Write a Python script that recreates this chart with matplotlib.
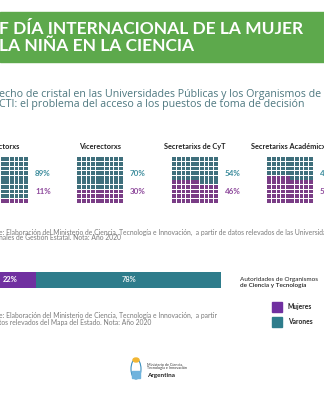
import matplotlib.pyplot as plt
import numpy as np
from matplotlib.patches import Rectangle, Ellipse

plt.rcParams['font.family'] = ['Lato', 'DejaVu Sans']

W, H = 324, 400

# data
waffle_titles = ['Rectorxs', 'Vicerectorxs', 'Secretarixs de CyT', 'Secretarixs Académicxs']
pct_varones = [89, 70, 54, 45]
pct_mujeres = [11, 30, 46, 55]

bar_mujeres = 22
bar_varones = 78

legend_labels = ['Mujeres', 'Varones']

teal = '#3f6f7c'
purple = '#7a3d86'
teal_txt = '#3f8e9e'
purple_txt = '#8e4a9c'
bar_teal = '#2e7c8b'
bar_purple = '#7030a0'
green = '#5da94c'


def fx(x):
    return x / W


def fy(y):
    return 1 - y / H


def box(x0, y0, x1, y1):
    return [fx(x0), fy(y1), (x1 - x0) / W, (y1 - y0) / H]


fig = plt.figure(figsize=(3.24, 4.0), dpi=100)
fig.patch.set_facecolor('white')

# header band
fig.patches.append(Rectangle((0, fy(62)), 1, (62 - 12) / H, transform=fig.transFigure,
                             color=green, zorder=0))
fig.text(fx(-1), fy(29), 'F DÍA INTERNACIONAL DE LA MUJER', color='white',
         fontsize=12.5, fontweight='bold', va='center', ha='left')
fig.text(fx(-1), fy(46), 'LA NIÑA EN LA CIENCIA', color='white',
         fontsize=12.5, fontweight='bold', va='center', ha='left')

# subtitle
sub_col = '#4e7880'
fig.text(fx(-1), fy(94), 'echo de cristal en las Universidades Públicas y los Organismos de',
         color=sub_col, fontsize=7.7, va='center', ha='left', family='Open Sans')
fig.text(fx(-1), fy(105), 'CTI: el problema del acceso a los puestos de toma de decisión',
         color=sub_col, fontsize=7.7, va='center', ha='left', family='Open Sans')

# waffles
for i, title in enumerate(waffle_titles):
    left = -18 + 95 * i
    ax = fig.add_axes(box(left, 157, left + 46, 203))
    n_m = pct_mujeres[i]
    for r in range(10):
        cols = np.arange(10)
        idx = r * 10 + cols
        colors = [purple if k < n_m else teal for k in idx]
        ax.bar(cols, 0.8, bottom=r - 0.4, width=0.8, color=colors)
    ax.set_xlim(-0.5, 9.5)
    ax.set_ylim(-0.5, 9.5)
    ax.axis('off')
    fig.text(fx(left + 23), fy(147), title, color='#222222', fontsize=5.3,
             fontweight='bold', ha='center', va='center')
    fig.text(fx(left + 53), fy(173), f'{pct_varones[i]}%', color=teal_txt,
             fontsize=5.8, fontweight='bold', ha='left', va='center')
    fig.text(fx(left + 53), fy(191), f'{pct_mujeres[i]}%', color=purple_txt,
             fontsize=5.8, fontweight='bold', ha='left', va='center')

src_col = '#7a7a7a'
fig.text(fx(-1), fy(232), 'e: Elaboración del Ministerio de Ciencia, Tecnología e Innovación,  a partir de datos relevados de las Universidades',
         color=src_col, fontsize=4.9, ha='left', va='center')
fig.text(fx(-1), fy(238), 'nales de Gestión Estatal. Nota: Año 2020',
         color=src_col, fontsize=4.9, ha='left', va='center')

# stacked bar
axb = fig.add_axes(box(-16, 272, 221, 288))
axb.barh(0, bar_mujeres, height=1, color=bar_purple)
axb.barh(0, bar_varones, left=bar_mujeres, height=1, color=bar_teal)
axb.text(bar_mujeres / 2, 0, f'{bar_mujeres}%', color='white', fontsize=5.4,
         fontweight='bold', ha='center', va='center')
axb.text(bar_mujeres + bar_varones / 2, 0, f'{bar_varones}%', color='#e6eef0',
         fontsize=5.4, fontweight='bold', ha='center', va='center')
axb.set_xlim(0, 100)
axb.set_ylim(-0.5, 0.5)
axb.axis('off')

fig.text(fx(240), fy(279), 'Autoridades de Organismos', color='#222222',
         fontsize=4.6, ha='left', va='center')
fig.text(fx(240), fy(286), 'de Ciencia y Tecnología', color='#222222',
         fontsize=4.6, fontweight='semibold', ha='left', va='center')

# legend
for j, (lab, c) in enumerate(zip(legend_labels, [bar_purple, bar_teal])):
    yc = 307 + 15 * j
    fig.patches.append(Rectangle((fx(272), fy(yc + 5)), 10 / W, 10 / H,
                                 transform=fig.transFigure, color=c))
    fig.text(fx(288), fy(yc), lab, color='#222222', fontsize=4.8,
             fontweight='bold', ha='left', va='center')

fig.text(fx(-1), fy(315), 'e: Elaboración del Ministerio de Ciencia, Tecnología e Innovación,  a partir',
         color=src_col, fontsize=4.9, ha='left', va='center')
fig.text(fx(-1), fy(323), 'tos relevados del Mapa del Estado. Nota: Año 2020',
         color=src_col, fontsize=4.9, ha='left', va='center')

# logo
fig.patches.append(Ellipse((fx(136), fy(369)), 10 / W, 20 / H, transform=fig.transFigure,
                           facecolor='white', edgecolor='#3a8fc0', lw=0.8))
fig.patches.append(Rectangle((fx(132), fy(378)), 8 / W, 7 / H, transform=fig.transFigure,
                             color='#6fb3dd'))
fig.patches.append(Ellipse((fx(136), fy(360)), 6 / W, 4 / H, transform=fig.transFigure,
                           color='#f2b632'))
fig.text(fx(147), fy(364), 'Ministerio de Ciencia,', color='#333333', fontsize=2.7,
         ha='left', va='center')
fig.text(fx(147), fy(368.5), 'Tecnología e Innovación', color='#333333', fontsize=2.7,
         ha='left', va='center')
fig.text(fx(147), fy(375), 'Argentina', color='#222222', fontsize=4.6,
         fontweight='bold', ha='left', va='center')

fig.savefig('out.png', dpi=100)
